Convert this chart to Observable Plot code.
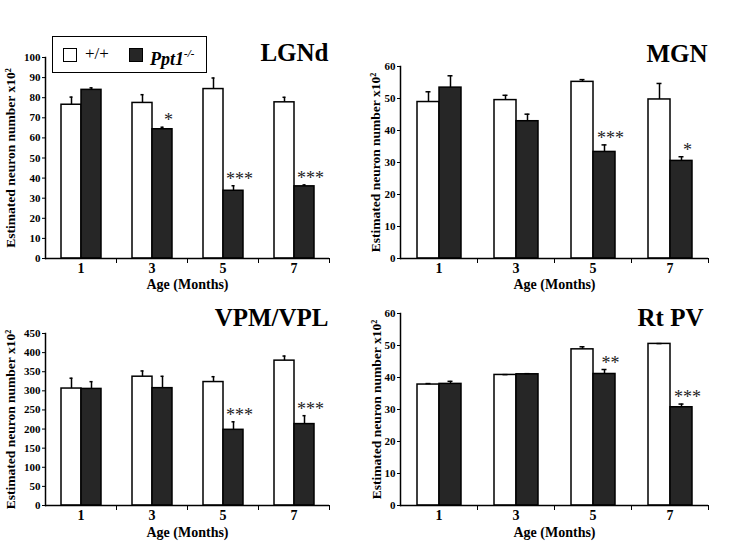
<!DOCTYPE html>
<html>
<head>
<meta charset="utf-8">
<script src="https://cdn.jsdelivr.net/npm/d3@7"></script>
<script src="https://cdn.jsdelivr.net/npm/@observablehq/plot@0.6"></script>
<style>
  body { margin: 0; background: #fff; }
  #root { position: relative; width: 749px; height: 541px; overflow: hidden; font-family: "Liberation Serif", "Times New Roman", serif; color: #000; }
  .panel { position: absolute; }
  .panel svg { overflow: visible; }
  .panel g[aria-label="y-axis tick label"], .panel g[aria-label="y-axis tick label"] text { font-size: 11px; }
  .panel g[aria-label="y-axis label"], .panel g[aria-label="y-axis label"] text { font-size: 13.5px; }
  .panel g[aria-label="fx-axis tick label"], .panel g[aria-label="fx-axis tick label"] text { font-size: 14px; }
  .panel g[aria-label="fx-axis label"], .panel g[aria-label="fx-axis label"] text { font-size: 14px; }
  #legend { position: absolute; left: 52px; top: 36px; width: 153px; height: 35px; border: 1.5px solid #000; background: #fff; }
  #legend .sw { position: absolute; top: 11px; width: 12px; height: 12px; border: 1.5px solid #000; }
  #legend .lab { position: absolute; top: 8px; font-size: 16px; line-height: 18px; white-space: nowrap; }
</style>
</head>
<body>
<div id="root">
  <div id="legend">
    <div class="sw" style="left:10px;background:#fff;"></div>
    <div class="lab" style="left:32px;font-size:17px;">+/+</div>
    <div class="sw" style="left:76px;background:#262626;"></div>
    <div class="lab" style="left:97px;font-weight:bold;font-style:italic;font-size:18px;">Ppt1<sup style="font-size:11px;font-weight:bold;font-style:italic;position:relative;top:-1px;">-/-</sup></div>
  </div>
</div>
<script>
// ---------- data (values x10^2) ----------
const months = ["1", "3", "5", "7"];
const genotypes = ["+/+", "Ppt1-/-"];

// LGNd
const lgndWt    = [76.5, 77.4, 84.3, 77.7];
const lgndWtSem = [3.8, 4.1, 5.5, 2.5];
const lgndKo    = [83.9, 64.3, 33.7, 35.9];
const lgndKoSem = [1.0, 1.0, 2.5, 0.7];
const lgndSig   = ["", "*", "***", "***"];
const lgndTicks = [0, 10, 20, 30, 40, 50, 60, 70, 80, 90, 100];

// MGN
const mgnWt    = [48.9, 49.5, 55.2, 49.7];
const mgnWtSem = [3.2, 1.5, 0.7, 5.0];
const mgnKo    = [53.4, 42.9, 33.3, 30.5];
const mgnKoSem = [3.7, 2.2, 2.2, 1.3];
const mgnSig   = ["", "", "***", "*"];
const mgnTicks = [0, 10, 20, 30, 40, 50, 60];

// VPM/VPL
const vpmWt    = [306, 337, 323, 379];
const vpmWtSem = [27, 15, 14, 12];
const vpmKo    = [305, 307, 198, 213];
const vpmKoSem = [19, 31, 21, 22];
const vpmSig   = ["", "", "***", "***"];
const vpmTicks = [0, 50, 100, 150, 200, 250, 300, 350, 400, 450];

// Rt PV
const rtWt    = [37.8, 40.8, 48.8, 50.5];
const rtWtSem = [0.3, 0.1, 0.8, 0.1];
const rtKo    = [38.0, 41.0, 41.1, 30.7];
const rtKoSem = [0.8, 0.2, 1.4, 1.0];
const rtSig   = ["", "", "**", "***"];
const rtTicks = [0, 10, 20, 30, 40, 50, 60];

const yLabel = "Estimated neuron number x10²";
const xLabel = "Age (Months)";

function rowsOf(wt, wtSem, ko, koSem, sig) {
  return months.flatMap((m, i) => [
    {month: m, g: genotypes[0], v: wt[i], e: wt[i] + wtSem[i], s: ""},
    {month: m, g: genotypes[1], v: ko[i], e: ko[i] + koSem[i], s: sig[i]}
  ]);
}

function panel(cfg) {
  const rows = rowsOf(cfg.wt, cfg.wtSem, cfg.ko, cfg.koSem, cfg.sig);
  const innerH = cfg.height - cfg.mt - cfg.mb;
  const chart = Plot.plot({
    width: cfg.width,
    height: cfg.height,
    marginLeft: cfg.ml,
    marginRight: cfg.mr,
    marginTop: cfg.mt,
    marginBottom: cfg.mb,
    style: {fontFamily: '"Liberation Serif", "Times New Roman", serif', fontWeight: "bold", fontSize: "11px", background: "transparent", color: "#000"},
    fx: {domain: months, padding: 0, label: xLabel},
    x: {domain: genotypes, paddingInner: 0, paddingOuter: 0.7, axis: null},
    y: {domain: cfg.domain, label: yLabel},
    marks: [
      Plot.barY(rows, {fx: "month", x: "g", y: "v", fill: d => d.g === genotypes[0] ? "#ffffff" : "#262626", stroke: "#000", strokeWidth: 1.5}),
      Plot.ruleX(rows, {fx: "month", x: "g", y1: "v", y2: "e", stroke: "#000", strokeWidth: 1.5}),
      Plot.tickY(rows, {fx: "month", x: "g", y: "e", stroke: "#000", strokeWidth: 1.5, insetLeft: 8.5, insetRight: 8.5}),
      Plot.text(rows.filter(d => d.s), {fx: "month", x: "g", y: "e", text: "s", lineAnchor: "bottom", dy: -1, dx: 6, fontSize: 18, fontWeight: "normal", fill: "#222", letterSpacing: "1.5px"}),
      Plot.ruleY([0], {stroke: "#000", strokeWidth: 1.5}),
      Plot.frame({anchor: "left", facetAnchor: "left", stroke: "#000", strokeWidth: 1.5}),
      Plot.frame({anchor: "right", stroke: "#000", strokeWidth: 1, insetTop: innerH, insetBottom: -4}),
      Plot.axisY({ticks: cfg.ticks, tickSize: 3, tickPadding: 2, label: yLabel, labelAnchor: "center", labelArrow: "none", labelOffset: cfg.labelOffset}),
      Plot.axisFx({anchor: "bottom", tickSize: 0, tickPadding: 5, label: xLabel, labelAnchor: "center", labelArrow: "none", labelOffset: cfg.xLabelOffset}),
      Plot.text([cfg.title], {text: d => d, frameAnchor: "top-right", facetAnchor: "right", textAnchor: "end", lineAnchor: "bottom", dx: cfg.tdx, dy: cfg.tdy, fontSize: 25, fontWeight: "bold"})
    ]
  });
  const div = document.createElement("div");
  div.className = "panel";
  div.style.left = cfg.left + "px";
  div.style.top = cfg.top + "px";
  div.appendChild(chart);
  document.getElementById("root").insertBefore(div, document.getElementById("legend"));
}

panel({title: "LGNd", wt: lgndWt, wtSem: lgndWtSem, ko: lgndKo, koSem: lgndKoSem, sig: lgndSig, ticks: lgndTicks, domain: [0, 100],
  left: 0, top: 0, width: 370, height: 290, ml: 44, mr: 41, mt: 57, mb: 32, labelOffset: 40, xLabelOffset: 30, tdx: -1, tdy: 3});
panel({title: "MGN", wt: mgnWt, wtSem: mgnWtSem, ko: mgnKo, koSem: mgnKoSem, sig: mgnSig, ticks: mgnTicks, domain: [0, 60],
  left: 360, top: 0, width: 389, height: 290, ml: 40, mr: 41, mt: 66, mb: 32, labelOffset: 30, xLabelOffset: 30, tdx: -1, tdy: -5});
panel({title: "VPM/VPL", wt: vpmWt, wtSem: vpmWtSem, ko: vpmKo, koSem: vpmKoSem, sig: vpmSig, ticks: vpmTicks, domain: [0, 450],
  left: 0, top: 290, width: 370, height: 251, ml: 44, mr: 41, mt: 43, mb: 36, labelOffset: 40, xLabelOffset: 31, tdx: -1, tdy: -8});
panel({title: "Rt PV", wt: rtWt, wtSem: rtWtSem, ko: rtKo, koSem: rtKoSem, sig: rtSig, ticks: rtTicks, domain: [0, 60],
  left: 360, top: 290, width: 389, height: 251, ml: 39, mr: 41, mt: 23, mb: 36, labelOffset: 29, xLabelOffset: 31, tdx: -5, tdy: 12});
</script>
</body>
</html>
